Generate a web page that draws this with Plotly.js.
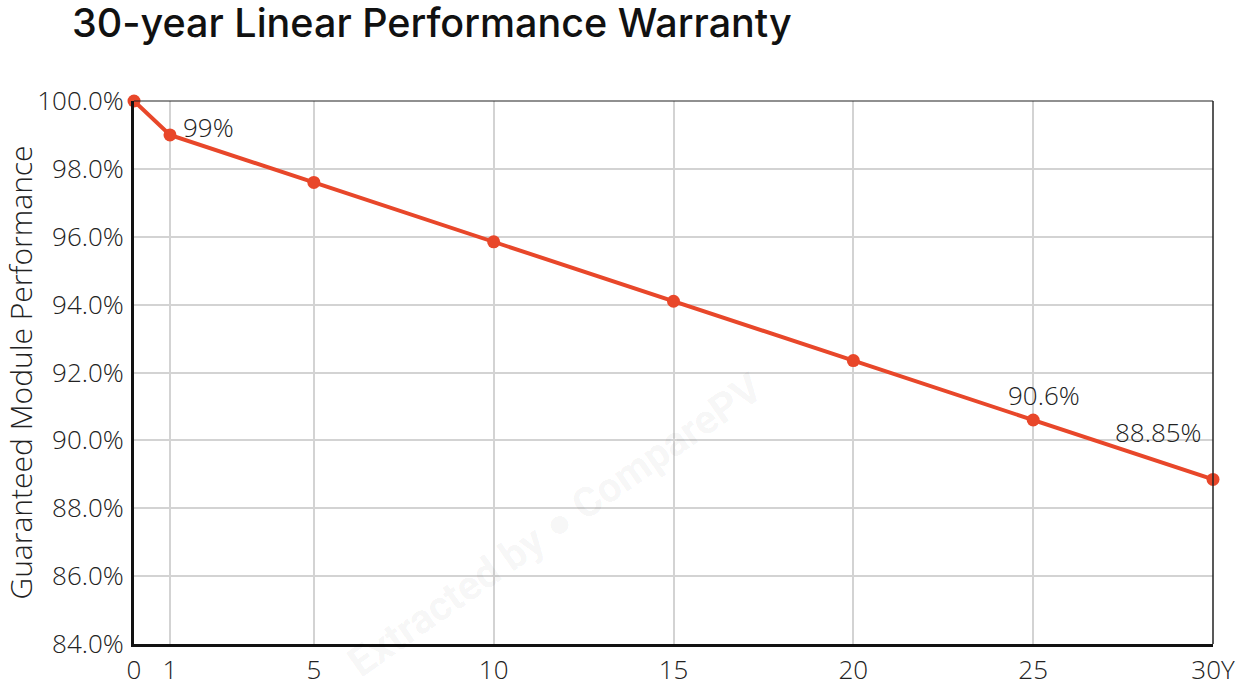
<!DOCTYPE html>
<html>
<head>
<meta charset="utf-8">
<script src="https://cdn.plot.ly/plotly-3.0.1.min.js"></script>
<style>html,body{margin:0;padding:0;background:#fff;}#chart{width:1245px;height:687px;}</style>
</head>
<body>
<div id="chart"></div>
<script>
const years = [0, 1, 5, 10, 15, 20, 25, 30];
const performance = [100, 99, 97.6, 95.85, 94.1, 92.35, 90.6, 88.85];
const xTickVals = [0, 1, 5, 10, 15, 20, 25, 30];
const xTickText = ['0', '1', '5', '10', '15', '20', '25', '30Y'];
const yTickVals = [84, 86, 88, 90, 92, 94, 96, 98, 100];
const labelPoints = [
  {x: 1, y: 99, text: '99%', xanchor: 'left', xshift: 11, yshift: 8},
  {x: 25, y: 90.6, text: '90.6%', xanchor: 'center', xshift: 11, yshift: 25},
  {x: 30, y: 88.85, text: '88.85%', xanchor: 'center', xshift: -55, yshift: 47}
];

const red = '#E8472A';
const textFont = {family: '"Open Sans", sans-serif', size: 26, color: '#222', weight: 300};

const trace = {
  x: years, y: performance, type: 'scatter', mode: 'lines+markers',
  line: {color: red, width: 4},
  marker: {color: red, size: 13},
  cliponaxis: false, hoverinfo: 'skip'
};

const annotations = labelPoints.map(p => ({
  x: p.x, y: p.y, xref: 'x', yref: 'y', text: p.text, showarrow: false,
  xanchor: p.xanchor, yanchor: 'middle', xshift: p.xshift, yshift: p.yshift,
  font: textFont
}));
annotations.push({
  x: (555 - 134) / 1079, y: (644 - 525) / 543, xref: 'paper', yref: 'paper', showarrow: false,
  xanchor: 'center', yanchor: 'middle',
  text: 'Extracted by ● ComparePV', textangle: -35,
  font: {family: 'Roboto, sans-serif', size: 41, color: 'rgba(0,0,0,0.05)', weight: 700}
});

const layout = {
  width: 1245, height: 687,
  margin: {l: 134, r: 32, t: 101, b: 43},
  paper_bgcolor: '#fff', plot_bgcolor: '#fff',
  showlegend: false,
  title: {text: '30-year Linear Performance Warranty', x: 72 / 1245, xref: 'container', xanchor: 'left',
    y: 1 - 9 / 687, yref: 'container', yanchor: 'top',
    font: {family: 'Inter, sans-serif', size: 39.5, color: '#111', weight: 500}},
  xaxis: {
    range: [0, 30], tickvals: xTickVals, ticktext: xTickText,
    showgrid: true, gridcolor: '#d3d3d3', gridwidth: 2, zeroline: false,
    showline: true, linecolor: '#111', linewidth: 3, ticks: '',
    tickfont: textFont, ticklabelstandoff: 1
  },
  yaxis: {
    range: [84, 100], tickvals: yTickVals,
    ticktext: yTickVals.map(v => v.toFixed(1) + '%'),
    showgrid: true, gridcolor: '#d3d3d3', gridwidth: 2, zeroline: false,
    showline: true, linecolor: '#111', linewidth: 3, ticks: '',
    tickfont: textFont, ticklabelstandoff: 2,
    title: {text: 'Guaranteed Module Performance', standoff: 4,
      font: {family: '"Open Sans", sans-serif', size: 30, color: '#222', weight: 300}}
  },
  shapes: [
    {type: 'line', xref: 'paper', yref: 'paper', x0: 0, x1: 1, y0: 1, y1: 1, line: {color: '#222', width: 1.2}},
    {type: 'line', xref: 'paper', yref: 'paper', x0: 1, x1: 1, y0: 0, y1: 1, line: {color: '#222', width: 1.5}}
  ],
  annotations: annotations
};

Plotly.newPlot('chart', [trace], layout, {displayModeBar: false, staticPlot: true});
</script>
</body>
</html>
